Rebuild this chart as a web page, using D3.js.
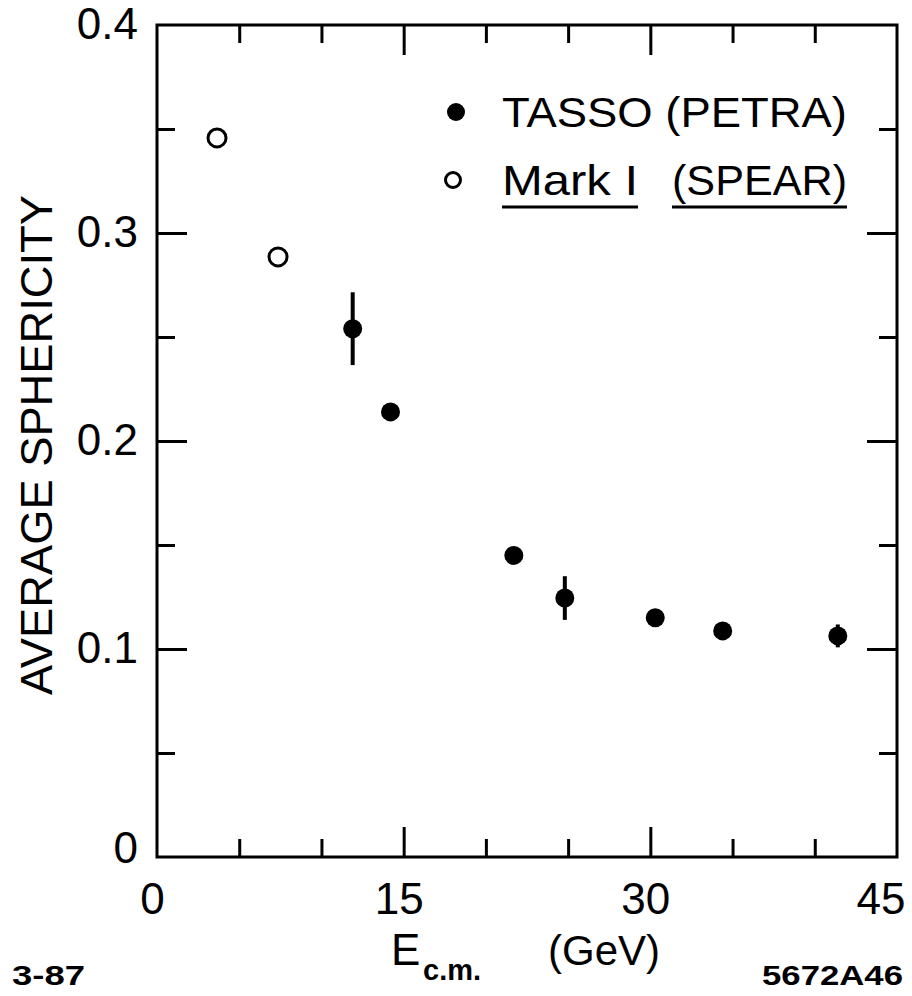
<!DOCTYPE html>
<html>
<head>
<meta charset="utf-8">
<script src="https://cdn.jsdelivr.net/npm/d3@7"></script>
<style>
  body { margin: 0; background: #fff; }
  svg text { font-family: "Liberation Sans", Arial, sans-serif; fill: #000; }
</style>
</head>
<body>
<script>
// Average sphericity vs c.m. energy
var tassoEnergy = [11.9, 14.2, 21.7, 24.8, 30.3, 34.4, 41.4];
var tassoSph    = [0.254, 0.214, 0.145, 0.1245, 0.115, 0.1087, 0.1063];
var tassoErr    = [0.0175, 0, 0, 0.0105, 0, 0, 0.0055];
var markEnergy  = [3.65, 7.36];
var markSph     = [0.3457, 0.2885];

// tick values
var xMinorTicks = [5, 10, 20, 25, 35, 40];
var xMajorTicks = [15, 30];
var xTickLabels = [0, 15, 30, 45];
var yMinorTicks = [0.05, 0.15, 0.25, 0.35];
var yMajorTicks = [0.1, 0.2, 0.3];
var yTickLabels = [0, 0.1, 0.2, 0.3, 0.4];

var W = 912, H = 996;
var plotLeft = 157, plotRight = 897, plotTop = 25, plotBottom = 857;

var x = d3.scaleLinear().domain([0, 45]).range([plotLeft, plotRight]);
var y = d3.scaleLinear().domain([0, 0.4]).range([plotBottom, plotTop]);

var svg = d3.select("body").append("svg")
    .attr("width", W)
    .attr("height", H);

// frame
svg.append("rect")
    .attr("x", plotLeft).attr("y", plotTop)
    .attr("width", plotRight - plotLeft).attr("height", plotBottom - plotTop)
    .attr("fill", "none").attr("stroke", "#000").attr("stroke-width", 3);

// inward ticks on all four sides
function tickAxis(axis, vals, size, transform) {
  var g = svg.append("g")
      .attr("transform", transform)
      .call(axis.tickValues(vals).tickSize(-size).tickFormat(""));
  g.select(".domain").remove();
  g.selectAll(".tick line").attr("stroke", "#000").attr("stroke-width", 3);
}
tickAxis(d3.axisBottom(x), xMinorTicks, 18, "translate(0," + plotBottom + ")");
tickAxis(d3.axisBottom(x), xMajorTicks, 30, "translate(0," + plotBottom + ")");
tickAxis(d3.axisTop(x), xMinorTicks, 18, "translate(0," + plotTop + ")");
tickAxis(d3.axisTop(x), xMajorTicks, 30, "translate(0," + plotTop + ")");
tickAxis(d3.axisLeft(y), yMinorTicks, 18, "translate(" + plotLeft + ",0)");
tickAxis(d3.axisLeft(y), yMajorTicks, 30, "translate(" + plotLeft + ",0)");
tickAxis(d3.axisRight(y), yMinorTicks, 18, "translate(" + plotRight + ",0)");
tickAxis(d3.axisRight(y), yMajorTicks, 30, "translate(" + plotRight + ",0)");

// tick labels
var xLab = svg.append("g")
    .attr("transform", "translate(0," + plotBottom + ")")
    .call(d3.axisBottom(x).tickValues(xTickLabels).tickSize(0).tickPadding(26));
xLab.select(".domain").remove();
xLab.selectAll("text")
    .attr("font-size", 44)
    .attr("font-family", null)
    .attr("dx", -5)
    .filter(function(d) { return d === 45; })
    .attr("text-anchor", "end").attr("dx", 8);

var yLab = svg.append("g")
    .attr("transform", "translate(" + plotLeft + ",0)")
    .call(d3.axisLeft(y).tickValues(yTickLabels).tickSize(0).tickPadding(19)
      .tickFormat(function(d) { return d === 0 ? "0" : d3.format(".1f")(d); }));
yLab.select(".domain").remove();
yLab.selectAll("text")
    .attr("font-size", 44)
    .attr("font-family", null)
    .attr("dy", "0.3em");
yLab.selectAll("text").filter(function(d) { return d === 0; }).attr("dy", "0.12em");

// axis titles
svg.append("text")
    .attr("transform", "translate(52,445) rotate(-90)")
    .attr("text-anchor", "middle")
    .attr("font-size", 44)
    .attr("textLength", 500)
    .attr("lengthAdjust", "spacingAndGlyphs")
    .text("AVERAGE SPHERICITY");

svg.append("text").attr("x", 391).attr("y", 965).attr("font-size", 44).text("E");
svg.append("text").attr("x", 423).attr("y", 980).attr("font-size", 29)
    .attr("font-weight", "bold").text("c.m.");
svg.append("text").attr("x", 548).attr("y", 965).attr("font-size", 42).text("(GeV)");

svg.append("text").attr("x", 12).attr("y", 985).attr("font-size", 27)
    .attr("font-weight", "bold").attr("textLength", 73)
    .attr("lengthAdjust", "spacingAndGlyphs").text("3-87");
svg.append("text").attr("x", 762).attr("y", 985).attr("font-size", 27)
    .attr("font-weight", "bold").attr("textLength", 141)
    .attr("lengthAdjust", "spacingAndGlyphs").text("5672A46");

// data: error bars then markers
var tasso = tassoEnergy.map(function(e, i) {
  return { e: e, s: tassoSph[i], err: tassoErr[i] };
});
var mark = markEnergy.map(function(e, i) { return { e: e, s: markSph[i] }; });

svg.selectAll(".err")
    .data(tasso.filter(function(d) { return d.err > 0; }))
    .enter().append("line")
    .attr("class", "err")
    .attr("x1", function(d) { return x(d.e); })
    .attr("x2", function(d) { return x(d.e); })
    .attr("y1", function(d) { return y(d.s + d.err); })
    .attr("y2", function(d) { return y(d.s - d.err); })
    .attr("stroke", "#000").attr("stroke-width", 4);

svg.selectAll(".tasso")
    .data(tasso)
    .enter().append("circle")
    .attr("class", "tasso")
    .attr("cx", function(d) { return x(d.e); })
    .attr("cy", function(d) { return y(d.s); })
    .attr("r", 9.5)
    .attr("fill", "#000");

svg.selectAll(".mark")
    .data(mark)
    .enter().append("circle")
    .attr("class", "mark")
    .attr("cx", function(d) { return x(d.e); })
    .attr("cy", function(d) { return y(d.s); })
    .attr("r", 9)
    .attr("fill", "none")
    .attr("stroke", "#000").attr("stroke-width", 3);

// legend
svg.append("circle").attr("cx", 456).attr("cy", 112).attr("r", 9).attr("fill", "#000");
svg.append("text").attr("x", 502).attr("y", 127).attr("font-size", 42)
    .attr("textLength", 345).attr("lengthAdjust", "spacingAndGlyphs").text("TASSO (PETRA)");

svg.append("circle").attr("cx", 453).attr("cy", 180).attr("r", 7.5)
    .attr("fill", "none").attr("stroke", "#000").attr("stroke-width", 3);
svg.append("text").attr("x", 502).attr("y", 195).attr("font-size", 42)
    .attr("textLength", 136).attr("lengthAdjust", "spacingAndGlyphs").text("Mark I");
svg.append("text").attr("x", 672).attr("y", 195).attr("font-size", 42)
    .attr("textLength", 175).attr("lengthAdjust", "spacingAndGlyphs").text("(SPEAR)");
svg.append("line").attr("x1", 502).attr("x2", 638).attr("y1", 207).attr("y2", 207)
    .attr("stroke", "#000").attr("stroke-width", 3);
svg.append("line").attr("x1", 672).attr("x2", 847).attr("y1", 207).attr("y2", 207)
    .attr("stroke", "#000").attr("stroke-width", 3);
</script>
</body>
</html>
